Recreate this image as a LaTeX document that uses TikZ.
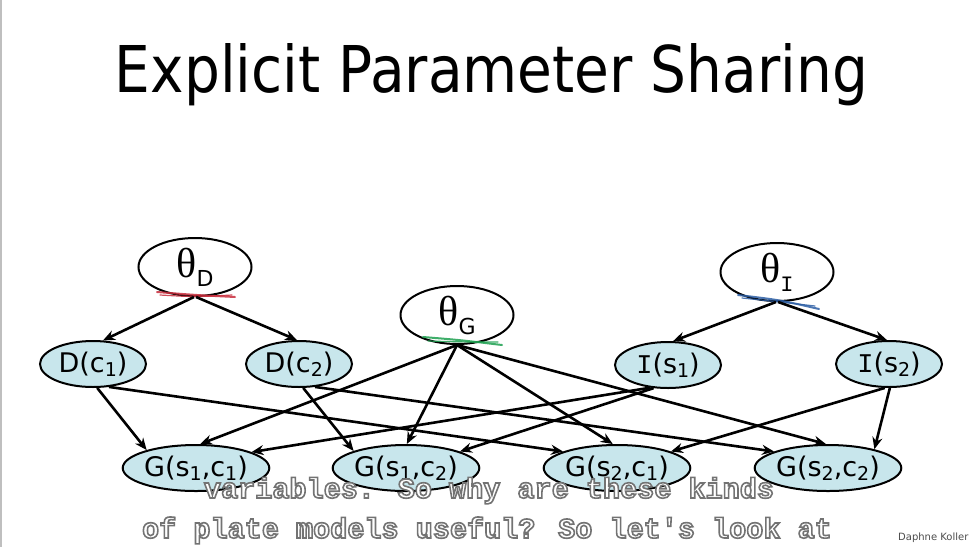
\documentclass[tikz,border=0pt]{standalone}
\usepackage{fontspec}
\setmainfont{DejaVu Sans}
\newfontfamily\greekfont{Liberation Serif}
\newfontfamily\monofont{Liberation Mono}
\newcommand{\barI}{{\monofont I}}
\newcommand{\lowsub}[1]{\raisebox{-4.5pt}{\fontsize{19}{19}\selectfont #1}}
\newcommand{\outlined}[1]{{\color{white}\special{pdf:literal direct 2 Tr 1.6 w 0.45 G}#1\special{pdf:literal direct 0 Tr}}}
\usetikzlibrary{shapes.geometric,arrows.meta}
\definecolor{nodeblue}{RGB}{200,230,236}
\definecolor{ulred}{RGB}{200,45,60}
\definecolor{ulgreen}{RGB}{30,160,80}
\definecolor{ulblue}{RGB}{45,95,165}
\begin{document}
\begin{tikzpicture}[x=1pt,y=-1pt,
  pnode/.style={draw=black, line width=2pt, ellipse, fill=white, inner sep=0pt,
    minimum width=113pt, minimum height=58pt},
  vnode/.style={draw=black, line width=2pt, ellipse, fill=nodeblue, inner sep=0pt,
    minimum width=106pt, minimum height=46pt, font=\fontsize{27}{27}\selectfont},
  gnode/.style={vnode, minimum width=134pt},
  edge/.style={-{Stealth[length=12pt,width=10pt]}, line width=2.6pt},
  uline/.style={line width=2pt, line cap=round, opacity=0.85},
  sub/.style={anchor=base, font=\monofont\bfseries\fontsize{28.5}{28.5}\selectfont},
]
\useasboundingbox (0,0) rectangle (976,547);
\fill[white] (0,0) rectangle (976,547);
\draw[black!25, line width=1.5pt] (1,0) -- (1,547);

% title
\node[anchor=base, inner sep=0pt] (title) at (491.5,92)
  {\resizebox{753pt}{49pt}{\fontsize{60}{60}\selectfont Explicit Parameter Sharing}};

% parameter nodes
\node[pnode] (tD) at (195,267) {{\greekfont\fontsize{42}{42}\selectfont θ}\raisebox{-9pt}{\fontsize{22}{22}\selectfont D}};
\node[pnode] (tG) at (457,315) {{\greekfont\fontsize{42}{42}\selectfont θ}\raisebox{-9pt}{\fontsize{22}{22}\selectfont G}};
\node[pnode] (tI) at (777,272) {{\greekfont\fontsize{42}{42}\selectfont θ}\raisebox{-9pt}{\fontsize{22}{22}\selectfont\barI}};

% colored underlines
\draw[uline, ulred] (157,292) .. controls (195,295) .. (235,297);
\draw[uline, ulred, line width=1.2pt] (160,295) .. controls (195,297) .. (232,295);
\draw[uline, ulgreen] (423,337) .. controls (460,340) .. (502,345);
\draw[uline, ulgreen, line width=1.2pt] (428,341) .. controls (465,342) .. (498,342);
\draw[uline, ulblue] (738,295) .. controls (780,300) .. (819,309);
\draw[uline, ulblue, line width=1.2pt] (742,298) .. controls (780,302) .. (815,306);

% variable nodes
\node[vnode] (dc1) at (93,364) {D(c\lowsub{1})};
\node[vnode] (dc2) at (299,364) {D(c\lowsub{2})};
\node[vnode] (is1) at (668,365) {\barI(s\lowsub{1})};
\node[vnode] (is2) at (889,364) {\barI(s\lowsub{2})};

\node[gnode] (g11) at (196,468) {G(s\lowsub{1},c\lowsub{1})};
\node[gnode] (g12) at (406,468) {G(s\lowsub{1},c\lowsub{2})};
\node[gnode] (g21) at (617,468) {G(s\lowsub{2},c\lowsub{1})};
\node[gnode] (g22) at (828,468) {G(s\lowsub{2},c\lowsub{2})};

% edges
\draw[edge] (tD.-92) -- (dc1.67);
\draw[edge] (tD.-88) -- (dc2.95);
\draw[edge] (tI.-92) -- (is1.78);
\draw[edge] (tI.-88) -- (is2.95);

\draw[edge] (tG.-90) -- (g11.80);
\draw[edge] (tG.-90) -- (g12.88);
\draw[edge] (tG.-90) -- (g21.100);
\draw[edge] (tG.-90) -- (g22.95);

\draw[edge] (dc1.-80) -- (g11.160);
\draw[edge] (dc1.-55) -- (g21.163);
\draw[edge] (dc2.-80) -- (g12.162);
\draw[edge] (dc2.-55) -- (g22.163);

\draw[edge] (is1.-128) -- (g11.16);
\draw[edge] (is1.-122) -- (g12.17);
\draw[edge] (is2.-100) -- (g21.17);
\draw[edge] (is2.-88) -- (g22.22);

% subtitles
\node[sub] (sub1) at (489,498) {\outlined{variables. So why are these kinds}};
\node[sub] (sub2) at (487,538) {\outlined{of plate models useful? So let\textquotesingle s look at}};

\node[anchor=base west, inner sep=0pt, font=\fontsize{10}{10}\selectfont, text=black!70] (dk) at (898,540) {Daphne Koller};
\end{tikzpicture}
\end{document}
